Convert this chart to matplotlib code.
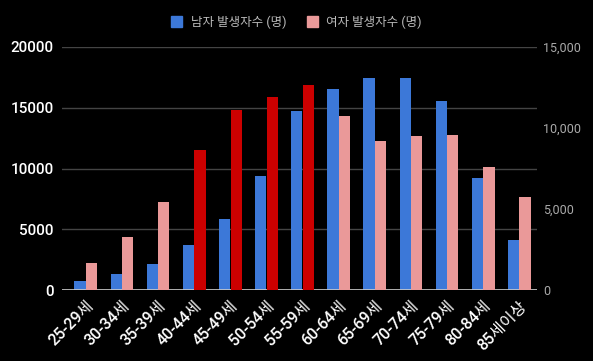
import matplotlib
matplotlib.use("Agg")
import matplotlib.pyplot as plt
import numpy as np
from matplotlib.patches import Patch

plt.rcParams['font.family'] = ['Roboto', 'Noto Sans CJK KR', 'DejaVu Sans']

categories = ['25-29세', '30-34세', '35-39세', '40-44세', '45-49세', '50-54세', '55-59세',
              '60-64세', '65-69세', '70-74세', '75-79세', '80-84세', '85세이상']
male = [716, 1290, 2115, 3680, 5820, 9360, 14730, 16520, 17420, 17420, 15530, 9220, 4090]
female = [1646, 3250, 5410, 8640, 11110, 11895, 12650, 10720, 9200, 9485, 9550, 7590, 5740]
highlight = ['40-44세', '45-49세', '50-54세', '55-59세']
left_ticks = [0, 5000, 10000, 15000, 20000]
right_ticks = [0, 5000, 10000, 15000]
right_labels = ['0', '5,000', '10,000', '15,000']

BLUE = '#3c78d8'
PINK = '#ea9999'
RED = '#cc0000'

fig = plt.figure(figsize=(5.93, 3.61), dpi=100, facecolor='black')
ax = fig.add_axes([62/593, 71/361, 475/593, 243/361])
ax.set_facecolor('black')
ax2 = ax.twinx()

x = np.arange(len(categories))
w = 0.31
ax.bar(x - w/2 - 0.005, male, width=w, color=BLUE, zorder=3)
fcolors = [RED if c in highlight else PINK for c in categories]
ax2.bar(x + w/2 + 0.005, female, width=w, color=fcolors, zorder=3)

ax.set_xlim(-0.66, 12.49)
ax.set_ylim(0, 20000)
ax2.set_ylim(0, 15000)

ax.set_yticks(left_ticks)
ax.set_yticklabels([str(t) for t in left_ticks], color='white', fontsize=11, fontweight='medium')
ax.yaxis.grid(True, color='#444444', linewidth=1, zorder=0)
ax.set_axisbelow(True)
ax.tick_params(axis='y', length=0, pad=6)

ax2.set_yticks(right_ticks)
ax2.set_yticklabels(right_labels, color='#aaaaaa', fontsize=9)
ax2.tick_params(axis='y', length=0, pad=4.5)

ax.set_xticks(x)
ax.set_xticklabels(categories, rotation=45, ha='right', rotation_mode='anchor',
                   color='white', fontsize=11.5, fontweight='medium')
ax.tick_params(axis='x', length=0, pad=6)

for a in (ax, ax2):
    for s in a.spines.values():
        s.set_visible(False)
ax.axhline(0, color='#cccccc', linewidth=1.2, zorder=4)

handles = [Patch(color=BLUE), Patch(color=PINK)]
leg = fig.legend(handles, ['남자 발생자수 (명)', '여자 발생자수 (명)'],
                 loc='center', bbox_to_anchor=(0.5, 1 - 22/361), ncol=2, frameon=False,
                 fontsize=9, handlelength=0.9, handleheight=0.9, columnspacing=1.6,
                 handletextpad=0.7)
for t in leg.get_texts():
    t.set_color('#bbbbbb')

fig.savefig('out.png', dpi=100, facecolor='black')
